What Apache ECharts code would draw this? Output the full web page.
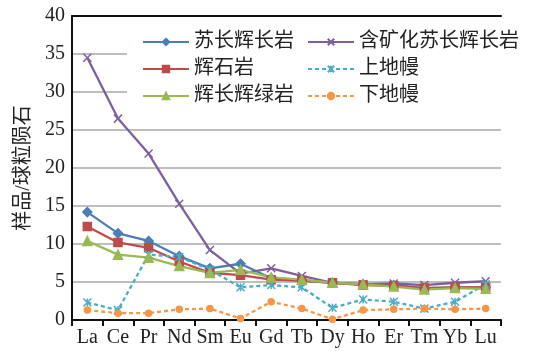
<!DOCTYPE html>
<html><head><meta charset="utf-8">
<script src="https://cdn.jsdelivr.net/npm/echarts@6/dist/echarts.min.js"></script>
<style>html,body{margin:0;padding:0;background:#fff}#c{width:545px;height:351px}</style>
</head><body><div id="c"></div>
<script>
var categories = ['La','Ce','Pr','Nd','Sm','Eu','Gd','Tb','Dy','Ho','Er','Tm','Yb','Lu'];
var yTicks = [0,5,10,15,20,25,30,35,40];
var norite = [14.2,11.4,10.4,8.4,6.8,7.4,5.5,5.2,4.9,4.7,4.6,4.2,4.3,4.3];
var pyroxenite = [12.3,10.2,9.5,7.7,6.2,5.9,5.3,5.2,4.9,4.6,4.5,4.2,4.3,4.3];
var gabbroDiabase = [10.4,8.6,8.2,7.1,6.2,6.6,5.6,5.3,4.9,4.7,4.4,4.0,4.2,4.1];
var mineralizedNorite = [34.5,26.5,21.9,15.3,9.2,6.1,6.8,5.8,4.9,4.7,4.8,4.6,4.9,5.1];
var upperMantle = [2.3,1.3,8.6,8.3,6.6,4.3,4.6,4.3,1.6,2.7,2.4,1.5,2.4,4.7];
var lowerMantle = [1.3,0.9,0.9,1.4,1.5,0.2,2.4,1.5,0.1,1.3,1.4,1.5,1.4,1.5];
var names = ['苏长辉长岩','含矿化苏长辉长岩','辉石岩','上地幔','辉长辉绿岩','下地幔'];

var FONT = '"Liberation Serif","Noto Sans CJK SC",serif';
var chart = echarts.init(document.getElementById('c'));
function mk(name, data, color, symbol, dashed, size) {
  return {
    name: name, type: 'line', data: data, symbol: symbol, symbolSize: size,
    lineStyle: {color: color, width: 2.3, type: dashed ? [4,3] : 'solid'},
    itemStyle: {color: color, borderColor: color, borderWidth: 1.5},
    emphasis: {disabled: true}, animation: false, z: 3
  };
}
var legendText = {fontFamily: FONT, fontSize: 20, color: '#222'};
chart.setOption({
  animation: false,
  grid: {left: 72, right: 44, top: 16, bottom: 31, containLabel: false},
  graphic: [{type: 'rect', z: 1, shape: {x: 127, y: 21, width: 418, height: 86}, style: {fill: '#fff'}}],
  legend: [
    {orient: 'vertical', left: 137, top: 27, itemGap: 7, itemWidth: 46, itemHeight: 8,
     data: [names[0], names[2], names[4]], textStyle: legendText, z: 5},
    {orient: 'vertical', left: 302, top: 27, itemGap: 7, itemWidth: 46, itemHeight: 8,
     data: [names[1], names[3], names[5]], textStyle: legendText, z: 5}
  ],
  xAxis: [{
    type: 'category', data: categories, boundaryGap: true,
    axisLine: {lineStyle: {color: '#111', width: 2}},
    axisTick: {show: true, interval: 0, length: 6, lineStyle: {color: '#111', width: 2}},
    axisLabel: {interval: 0, fontFamily: FONT, fontSize: 20, color: '#222', margin: 8},
    splitLine: {show: false}
  }, {
    type: 'category', data: categories, position: 'top',
    axisLine: {lineStyle: {color: '#111', width: 2}},
    axisTick: {show: false}, axisLabel: {show: false}, splitLine: {show: false}
  }],
  yAxis: {
    type: 'value', min: yTicks[0], max: yTicks[yTicks.length-1], interval: 5,
    name: '样品/球粒陨石', nameLocation: 'middle', nameGap: 38, nameRotate: 90,
    nameTextStyle: {fontFamily: FONT, fontSize: 20, color: '#222'},
    axisLine: {show: true, lineStyle: {color: '#111', width: 2}},
    axisTick: {show: false},
    axisLabel: {fontFamily: FONT, fontSize: 20, color: '#222', margin: 7},
    splitLine: {show: true, lineStyle: {color: '#a8a8a8', width: 1.5}}
  },
  series: [
    mk(names[0], norite, '#4a7ebb', 'diamond', false, 9),
    mk(names[1], mineralizedNorite, '#7d5fa0', 'path://M0,0L10,10M10,0L0,10', false, 8),
    mk(names[2], pyroxenite, '#be4b48', 'rect', false, 8),
    mk(names[3], upperMantle, '#4bacc6', 'path://M0,0L10,10M10,0L0,10M5,0L5,10', true, 8),
    mk(names[4], gabbroDiabase, '#98b954', 'triangle', false, 9),
    mk(names[5], lowerMantle, '#f79646', 'circle', true, 6)
  ]
});
</script></body></html>
